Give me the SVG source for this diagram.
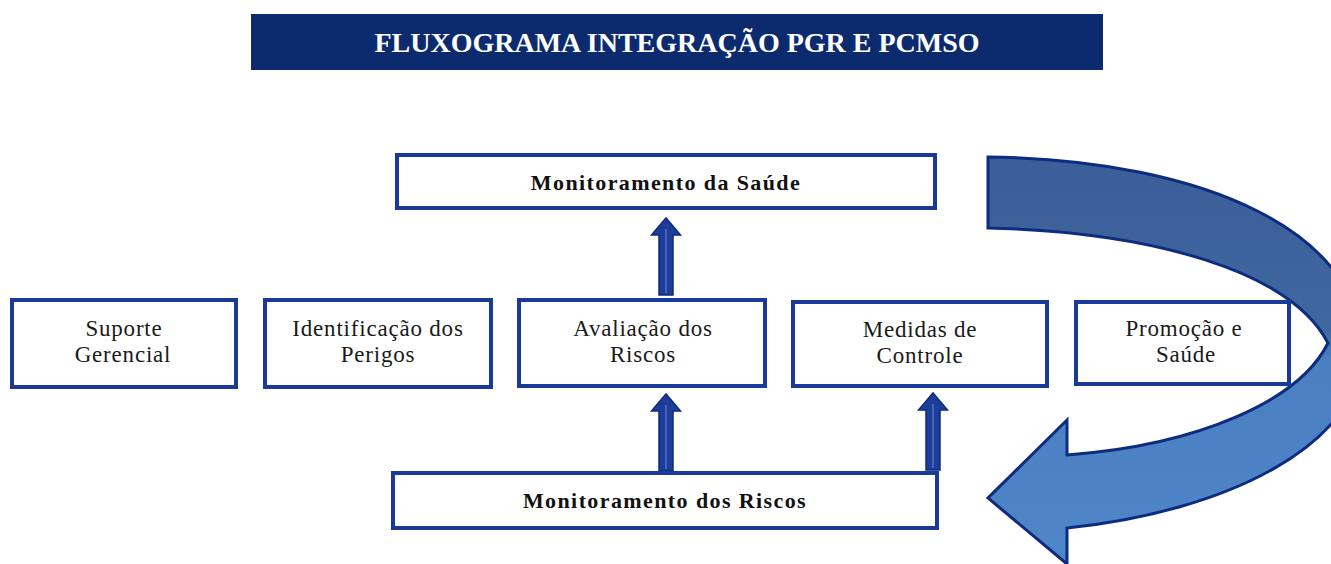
<svg xmlns="http://www.w3.org/2000/svg" width="1331" height="564" viewBox="0 0 1331 564">
  <defs>
    <style>
      .box { fill: #ffffff; stroke: #1a3a9a; stroke-width: 4; }
      .t { font-family: "Liberation Serif", "Times New Roman", serif; font-size: 23px; fill: #1a1a1a; text-anchor: middle; letter-spacing: 0.8px; }
      .tb { font-family: "Liberation Serif", "Times New Roman", serif; font-size: 22px; font-weight: bold; fill: #111111; text-anchor: middle; letter-spacing: 1.4px; }
      .title { font-family: "Liberation Serif", "Times New Roman", serif; font-size: 28px; font-weight: bold; fill: #ffffff; text-anchor: middle; }
      .up { fill: #1c3d99; stroke: #0f2a78; stroke-width: 1.5; }
      .hl { stroke: #6f8fd6; stroke-width: 1.2; opacity: 0.8; }
    </style>
    <linearGradient id="curveGrad" gradientUnits="userSpaceOnUse" x1="0" y1="157" x2="0" y2="564">
      <stop offset="0" stop-color="#3a5e98"/>
      <stop offset="0.42" stop-color="#40679f"/>
      <stop offset="0.5" stop-color="#4a7fc0"/>
      <stop offset="1" stop-color="#4f86c8"/>
    </linearGradient>
    <symbol id="upArrow" overflow="visible">
      <path class="up" d="M -7,0 L -7,-60 L -14.5,-60 L 0,-77 L 14.5,-60 L 7,-60 L 7,0 Z"/>
      <line class="hl" x1="0" y1="-2" x2="0" y2="-66"/>
    </symbol>
  </defs>

  <g id="title">
    <rect x="251" y="14" width="852" height="56" fill="#0c2b6e"/>
    <text class="title" x="677" y="52">FLUXOGRAMA INTEGRAÇÃO PGR E PCMSO</text>
  </g>

  <g id="curved-arrow">
    <path d="M 988,157 C 1210,160 1362,235 1362,350 C 1362,445 1225,512 1067,528 L 1067,564 L 988,498 L 1067,420 L 1067,455 C 1200,445 1300,400 1328,343 C 1290,270 1150,232 988,228 Z" fill="url(#curveGrad)" stroke="#0d2c80" stroke-width="3" stroke-linejoin="miter"/>
  </g>

  <g id="connectors">
    <use href="#upArrow" x="666" y="295"/>
    <use href="#upArrow" x="666" y="471"/>
    <use href="#upArrow" x="933" y="470"/>
  </g>

  <g id="node-monitoramento-saude">
    <rect class="box" x="397" y="155" width="538" height="53"/>
    <text class="tb" x="666" y="190">Monitoramento da Saúde</text>
  </g>

  <g id="node-suporte">
    <rect class="box" x="12" y="300" width="224" height="87"/>
    <text class="t" x="124" y="336">Suporte</text>
    <text class="t" x="123" y="362">Gerencial</text>
  </g>

  <g id="node-identificacao">
    <rect class="box" x="265" y="300" width="226" height="87"/>
    <text class="t" x="378" y="336">Identificação dos</text>
    <text class="t" x="378" y="362">Perigos</text>
  </g>

  <g id="node-avaliacao">
    <rect class="box" x="519" y="300" width="246" height="86"/>
    <text class="t" x="643" y="336">Avaliação dos</text>
    <text class="t" x="643" y="362">Riscos</text>
  </g>

  <g id="node-medidas">
    <rect class="box" x="793" y="302" width="254" height="84"/>
    <text class="t" x="920" y="337">Medidas de</text>
    <text class="t" x="920" y="363">Controle</text>
  </g>

  <g id="node-promocao">
    <rect class="box" x="1076" y="302" width="213" height="82"/>
    <text class="t" x="1184" y="336">Promoção e</text>
    <text class="t" x="1186" y="362">Saúde</text>
  </g>

  <g id="node-monitoramento-riscos">
    <rect class="box" x="393" y="473" width="544" height="55"/>
    <text class="tb" x="665" y="508">Monitoramento dos Riscos</text>
  </g>
</svg>
